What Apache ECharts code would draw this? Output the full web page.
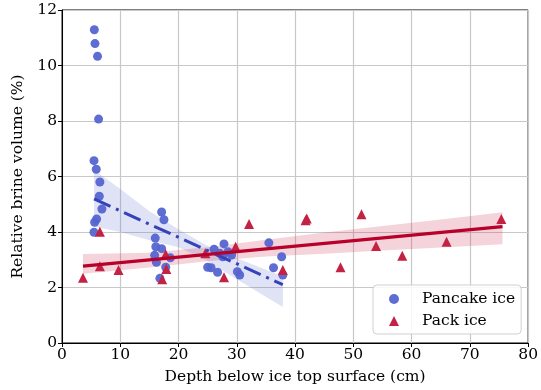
<!DOCTYPE html>
<html>
<head>
<meta charset="utf-8">
<script src="https://cdn.jsdelivr.net/npm/echarts@6/dist/echarts.min.js"></script>
<style>
  html, body { margin: 0; padding: 0; background: #fff; }
  #chart { width: 541px; height: 390px; }
</style>
</head>
<body>
<div id="chart"></div>
<script>
// Pancake ice: [depth (cm), relative brine volume (%)]
const pancakePoints = [
  [5.55, 11.29], [5.66, 10.79], [6.1, 10.33], [6.28, 8.07], [5.49, 6.57], [5.88, 6.26],
  [6.5, 5.80], [6.4, 5.29], [6.85, 4.83], [5.94, 4.47], [5.6, 4.35], [5.49, 3.99],
  [17.1, 4.72], [17.5, 4.44], [16.0, 3.78], [16.1, 3.47], [17.1, 3.40], [15.9, 3.16],
  [16.2, 2.91], [18.6, 3.07], [17.8, 2.73], [16.8, 2.33],
  [25.0, 2.73], [25.6, 2.71], [26.7, 2.55], [26.1, 3.38], [27.8, 3.57], [27.1, 3.23],
  [28.5, 3.29], [27.6, 3.11], [29.1, 3.17], [30.1, 2.57], [30.5, 2.45],
  [35.5, 3.61], [36.3, 2.71], [37.7, 3.11], [37.9, 2.45]
];
// Pack ice
const packPoints = [
  [6.5, 4.01], [3.6, 2.35], [6.5, 2.77], [9.7, 2.63], [17.8, 3.2], [17.9, 2.67],
  [17.2, 2.30], [24.6, 3.23], [27.8, 2.37], [29.8, 3.47], [32.1, 4.29], [37.9, 2.63],
  [41.8, 4.42], [42.0, 4.49], [47.8, 2.73], [51.4, 4.64], [53.9, 3.50], [58.4, 3.14],
  [66.0, 3.65], [75.4, 4.47]
];

// Regression lines
const pancakeFit = [[5.5, 5.19], [37.9, 2.1]];
const packFit = [[3.6, 2.77], [75.6, 4.19]];

// Confidence bands: x, upper, lower
const pancakeBandX = [5.5, 10, 15, 20, 25, 30, 37.9];
const pancakeBandUp = [6.23, 5.55, 4.75, 4.1, 3.5, 3.05, 2.4];
const pancakeBandLo = [4.2, 4.0, 3.7, 3.45, 2.95, 2.3, 1.3];

const packBandX = [3.6, 15, 25, 35, 45, 55, 65, 75.6];
const packBandUp = [3.21, 3.25, 3.45, 3.72, 3.98, 4.22, 4.45, 4.71];
const packBandLo = [2.50, 2.72, 2.95, 3.12, 3.22, 3.33, 3.44, 3.56];

const xTicks = [0, 10, 20, 30, 40, 50, 60, 70, 80];
const yTicks = [0, 2, 4, 6, 8, 10, 12];

const FONT = 'DejaVu Serif';
const FS = 15.5;

function bandSeries(xs, up, lo, color) {
  return {
    type: 'custom',
    silent: true,
    data: [0],
    renderItem: function (params, api) {
      const pts = [];
      for (let i = 0; i < xs.length; i++) pts.push(api.coord([xs[i], up[i]]));
      for (let i = xs.length - 1; i >= 0; i--) pts.push(api.coord([xs[i], lo[i]]));
      return { type: 'polygon', shape: { points: pts }, style: { fill: color } };
    }
  };
}

const chart = echarts.init(document.getElementById('chart'));

const option = {
  animation: false,
  textStyle: { fontFamily: FONT },
  grid: {
    left: 62, right: 8, top: 10, bottom: 47,
    show: true, borderColor: '#000', borderWidth: 1
  },
  legend: {
    orient: 'vertical',
    left: 373, top: 285,
    padding: [6, 6, 5, 16],
    itemWidth: 10, itemHeight: 10, itemGap: 6,
    backgroundColor: 'rgba(255,255,255,0.85)',
    borderColor: '#d0d0d0', borderWidth: 1, borderRadius: 4,
    textStyle: { fontFamily: FONT, fontSize: FS, color: '#000', padding: [0, 0, 0, 18] },
    data: [
      { name: 'Pancake ice', icon: 'circle' },
      { name: 'Pack ice', icon: 'triangle' }
    ]
  },
  xAxis: {
    type: 'value', min: 0, max: 80, interval: 10,
    name: 'Depth below ice top surface (cm)',
    nameLocation: 'middle', nameGap: 26,
    nameTextStyle: { fontFamily: FONT, fontSize: FS, color: '#000' },
    axisLine: { show: true, lineStyle: { color: '#000', width: 1 } },
    axisTick: { show: true, length: 4, lineStyle: { color: '#000' } },
    axisLabel: { fontFamily: FONT, fontSize: FS, color: '#000', margin: 4,
      formatter: v => xTicks.includes(v) ? String(v) : '' },
    splitLine: { show: true, lineStyle: { color: '#c8c8c8', width: 1.2 } }
  },
  yAxis: {
    type: 'value', min: 0, max: 12, interval: 2,
    name: 'Relative brine volume (%)',
    nameLocation: 'middle', nameGap: 34,
    nameTextStyle: { fontFamily: FONT, fontSize: FS, color: '#000' },
    axisLine: { show: true, lineStyle: { color: '#000', width: 1 } },
    axisTick: { show: true, length: 4, lineStyle: { color: '#000' } },
    axisLabel: { fontFamily: FONT, fontSize: FS, color: '#000', margin: 5,
      formatter: v => yTicks.includes(v) ? String(v) : '' },
    splitLine: { show: true, lineStyle: { color: '#c8c8c8', width: 1.2 } }
  },
  series: [
    {
      name: 'Pancake ice', type: 'scatter', symbol: 'circle', symbolSize: 9,
      itemStyle: { color: '#5565d0', opacity: 0.95 },
      data: pancakePoints
    },
    bandSeries(pancakeBandX, pancakeBandUp, pancakeBandLo, 'rgba(88,103,200,0.19)'),
    {
      type: 'line', silent: true, symbol: 'none',
      lineStyle: { color: '#3443bb', width: 3, type: [18, 6, 3, 6], cap: 'butt' },
      data: pancakeFit
    },
    {
      name: 'Pack ice', type: 'scatter', symbol: 'triangle', symbolSize: 10,
      itemStyle: { color: '#c42244', opacity: 1 },
      data: packPoints
    },
    bandSeries(packBandX, packBandUp, packBandLo, 'rgba(200,40,70,0.2)'),
    {
      type: 'line', silent: true, symbol: 'none',
      lineStyle: { color: '#b9002b', width: 3.3 },
      data: packFit
    }
  ]
};

chart.setOption(option);
</script>
</body>
</html>
